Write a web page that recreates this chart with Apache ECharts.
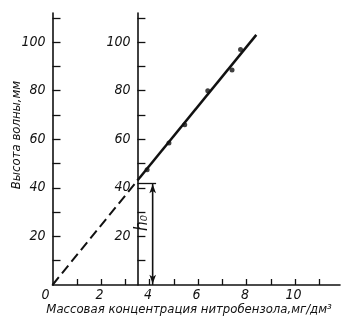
<!DOCTYPE html>
<html><head><meta charset="utf-8">
<script src="https://cdn.jsdelivr.net/npm/echarts@6/dist/echarts.min.js"></script>
<style>html,body{margin:0;padding:0;background:#fff}#c{width:353px;height:325px}</style>
</head><body><div id="c"></div>
<script>
// data
const concX = [3.9, 4.8, 5.45, 6.4, 7.4, 7.75];
const heightY = [47.5, 58.5, 66, 80, 88.5, 97];
const fitSolid = [[3.5, 43], [8.4, 103]];
const fitDashed = [[0, 0], [3.5, 43]];
const h0 = 42;
const h0ArrowX = 4.13;
const h0LineEndX = 4.27;
const secondAxisX = 3.5;
const yTicks = [10, 20, 30, 40, 50, 60, 70, 80, 90, 100, 110];
const yLabels = [20, 40, 60, 80, 100];
const xTicks = [1, 2, 3, 4, 5, 6, 7, 8, 9, 10, 11];
const xLabels = [0, 2, 4, 6, 8, 10];
const xMax = 11.85, yMax = 112;

const gridLeft = 52.5, gridRight = 13, W = 353;
const pxPerX = (W - gridLeft - gridRight) / xMax;
const font = '"DejaVu Sans Condensed", "DejaVu Sans", sans-serif';
const lblStyle = { fontFamily: font, fontStyle: 'italic', fontSize: 14, color: '#111' };

function yAxisDef(offset) {
  return {
    type: 'value', min: 0, max: yMax, position: 'left', offset: offset,
    axisLine: { show: true, lineStyle: { color: '#111', width: 1.6 } },
    axisTick: { show: true, inside: true, length: 8, lineStyle: { color: '#111', width: 1.3 }, customValues: yTicks },
    axisLabel: Object.assign({ margin: 7, customValues: yLabels }, lblStyle),
    splitLine: { show: false }
  };
}

const chart = echarts.init(document.getElementById('c'));
chart.setOption({
  animation: false,
  backgroundColor: '#fff',
  grid: { left: gridLeft, right: gridRight, top: 13, bottom: 40 },
  xAxis: {
    type: 'value', min: 0, max: xMax,
    axisLine: { show: true, lineStyle: { color: '#111', width: 1.6 } },
    axisTick: { show: true, inside: true, length: 6, lineStyle: { color: '#111', width: 1.3 }, customValues: xTicks },
    axisLabel: Object.assign({ margin: 3, customValues: xLabels, alignMinLabel: 'right', padding: [0, 3, 0, 0] }, lblStyle),
    splitLine: { show: false }
  },
  yAxis: [yAxisDef(0), yAxisDef(-secondAxisX * pxPerX)],
  series: [
    { type: 'line', data: fitSolid, symbol: 'none', lineStyle: { color: '#111', width: 2.5 }, z: 3,
      markLine: {
        silent: true, symbol: ['none', 'none'], label: { show: false },
        lineStyle: { color: '#111', width: 1.3, type: 'solid' },
        data: [[{ coord: [secondAxisX, h0] }, { coord: [h0LineEndX, h0] }]]
      }
    },
    { type: 'line', data: fitDashed, symbol: 'none', lineStyle: { color: '#111', width: 2, type: [10, 5] } },
    { type: 'line', data: [[h0ArrowX, h0], [h0ArrowX, 0]], symbol: 'none', lineStyle: { color: '#111', width: 1.3 },
      markLine: {
        silent: true, symbol: ['arrow', 'arrow'], symbolSize: [5, 9], label: { show: false },
        lineStyle: { color: '#111', width: 1.3, type: 'solid' },
        data: [[{ coord: [h0ArrowX, h0 - 0.5] }, { coord: [h0ArrowX, 0.5] }]]
      }
    },
    { type: 'scatter', data: concX.map((x, i) => [x, heightY[i]]), symbol: 'circle', symbolSize: 5,
      itemStyle: { color: '#111' }, z: 4 }
  ],
  graphic: [
    { type: 'text', x: 17, y: 135, rotation: Math.PI / 2,
      style: { text: 'Высота волны,мм', fontFamily: font, fontStyle: 'italic', fontSize: 13, fill: '#111', align: 'center', verticalAlign: 'middle' } },
    { type: 'text', x: 189, y: 310,
      style: { text: 'Массовая концентрация нитробензола,мг/дм³', fontFamily: font, fontStyle: 'italic', fontSize: 13, fill: '#111', align: 'center', verticalAlign: 'middle' } },
    { type: 'text', x: 143, y: 223, rotation: Math.PI / 2,
      style: { text: 'h₀', fontFamily: font, fontStyle: 'italic', fontSize: 17, fill: '#111', align: 'center', verticalAlign: 'middle' } }
  ]
});
</script></body></html>
